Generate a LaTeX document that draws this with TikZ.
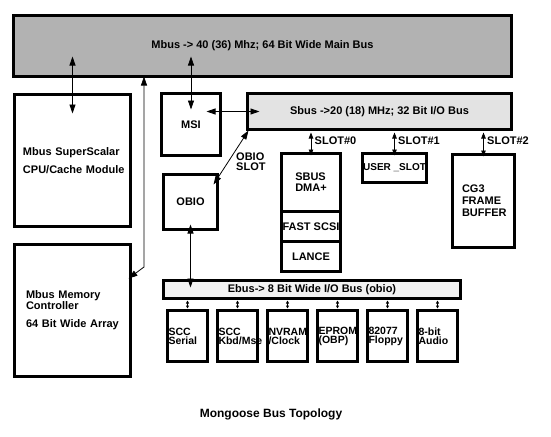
\documentclass[tikz,border=0pt]{standalone}
\usepackage{fontspec}
\setmainfont{Liberation Sans}
\usetikzlibrary{positioning,arrows.meta,calc}

\definecolor{mbusgray}{gray}{0.7}
\definecolor{sbusgray}{gray}{0.89}
\definecolor{ebusgray}{gray}{0.95}

\tikzset{
  box/.style={draw, line width=3pt, inner sep=0pt, outer sep=0pt, font=\bfseries\fontsize{11}{11}\selectfont},
  iobox/.style={box, minimum width=40pt, minimum height=51pt, text width=38pt, align=left, font=\bfseries\fontsize{10.5}{9}\selectfont},
  lbl/.style={font=\bfseries\fontsize{11}{11}\selectfont},
  link/.style={{Triangle[width=6pt,length=9pt]}-{Triangle[width=6pt,length=9pt]}, line width=0.8pt},
  slotlink/.style={{Triangle[width=4.5pt,length=6pt]}-{Triangle[width=4.5pt,length=6pt]}, line width=0.8pt},
  iolink/.style={{Triangle[width=3pt,length=3pt]}-{Triangle[width=3pt,length=3pt]}, line width=0.8pt},
}

\begin{document}
\begin{tikzpicture}[x=1pt,y=-1pt]
\useasboundingbox (0,0) rectangle (551,436);

% buses
\node[box, fill=mbusgray, minimum width=498pt, minimum height=61pt] (mbus) at (262.5,46) {Mbus -> 40 (36) Mhz; 64 Bit Wide Main Bus};
\node[box, fill=sbusgray, minimum width=264pt, minimum height=36pt] (sbus) at (379.5,111.5) {Sbus ->20 (18) MHz; 32 Bit I/O Bus};
\node[box, fill=ebusgray, minimum width=297pt, minimum height=18pt] (ebus) at (312,289.5) {Ebus-> 8 Bit Wide I/O Bus (obio)};

% modules
\node[box, minimum width=116pt, minimum height=132pt, text width=99pt, align=left,
      font=\bfseries\fontsize{11}{18}\selectfont] (cpu) at (72.5,160.5) {\mbox{Mbus SuperScalar}\\\mbox{CPU/Cache Module}};
\node[box, minimum width=116pt, minimum height=132pt, text width=93pt, align=left,
      font=\bfseries\fontsize{11}{10}\selectfont] (mem) at (72.5,310.5) {\mbox{Mbus Memory}\\Controller\\[8pt]\mbox{64 Bit Wide Array}};
\node[box, minimum width=59pt, minimum height=62pt] (msi) at (191,124.5) {MSI};
\node[box, minimum width=54pt, minimum height=55pt] (obio) at (190.5,202) {OBIO};
\node[lbl, align=left, anchor=north west, inner sep=0pt, font=\bfseries\fontsize{11}{10}\selectfont] (obioslot) at (236,153) {OBIO\\SLOT};

\node[box, minimum width=59pt, minimum height=58pt, align=left] (dma) at (311,182.5) {SBUS\\DMA+};
\node[box, minimum width=59pt, minimum height=30pt, below=0pt of dma] (scsi) {FAST SCSI};
\node[box, minimum width=59pt, minimum height=30pt, below=0pt of scsi] (lance) {LANCE};
\node[box, minimum width=64pt, minimum height=29pt, font=\bfseries\fontsize{10}{10}\selectfont] (user) at (394.5,168) {USER \_SLOT};
\node[box, minimum width=62pt, minimum height=93pt, text width=43pt, align=left,
      font=\bfseries\fontsize{11}{12}\selectfont] (cg3) at (483.5,201) {CG3\\FRAME\\BUFFER};

% obio devices
\node[iobox] (sccs) at (187.5,336) {SCC\\Serial};
\node[iobox, right=10pt of sccs] (scck) {SCC\\Kbd/Mse};
\node[iobox, right=10pt of scck] (nvram) {NVRAM\\/Clock};
\node[iobox, right=10pt of nvram] (eprom) {EPROM\\(OBP)};
\node[iobox, right=10pt of eprom] (floppy) {82077\\Floppy};
\node[iobox, right=10pt of floppy] (audio) {8-bit\\Audio};

\node[lbl, anchor=base, font=\bfseries\fontsize{12}{12}\selectfont] (title) at (271,417) {Mongoose Bus Topology};

% connections
\draw[link] ($(cpu.north |- mbus.south)+(0,-20)$) -- ($(cpu.north)+(0,19)$);
\draw[link] ($(msi.north |- mbus.south)+(0,-20)$) -- ($(msi.north)+(0,16)$);
\draw[link] ($(msi.east |- sbus.west)+(-14,0)$) -- ($(sbus.west)+(12,0)$);
\draw[link] ($(obio.north east)+(-4,10)$) -- ($(sbus.south west)+(1,1)$);
\draw[link] ($(obio.south)+(0,-5)$) -- ($(obio.south |- ebus.north)+(0,7)$);
\coordinate (membend) at (144,267);
\draw[link] (membend |- mbus.south) -- (membend) -- ($(mem.north east)+(-2,34)$);

\draw[slotlink] ($(dma.north |- sbus.south)+(0,3)$) -- node[lbl, right, pos=0.35] (slot0) {SLOT\#0} ($(dma.north)+(0,2)$);
\draw[slotlink] ($(user.north |- sbus.south)+(0,3)$) -- node[lbl, right, pos=0.35] (slot1) {SLOT\#1} ($(user.north)+(0,2)$);
\draw[slotlink] ($(cg3.north |- sbus.south)+(0,3)$) -- node[lbl, right, pos=0.35] (slot2) {SLOT\#2} ($(cg3.north)+(0,2)$);

\foreach \b in {sccs,scck,nvram,eprom,floppy,audio}
  \draw[iolink] ($(\b.north |- ebus.south)+(0,2)$) -- ($(\b.north)+(0,-2)$);

\end{tikzpicture}
\end{document}
